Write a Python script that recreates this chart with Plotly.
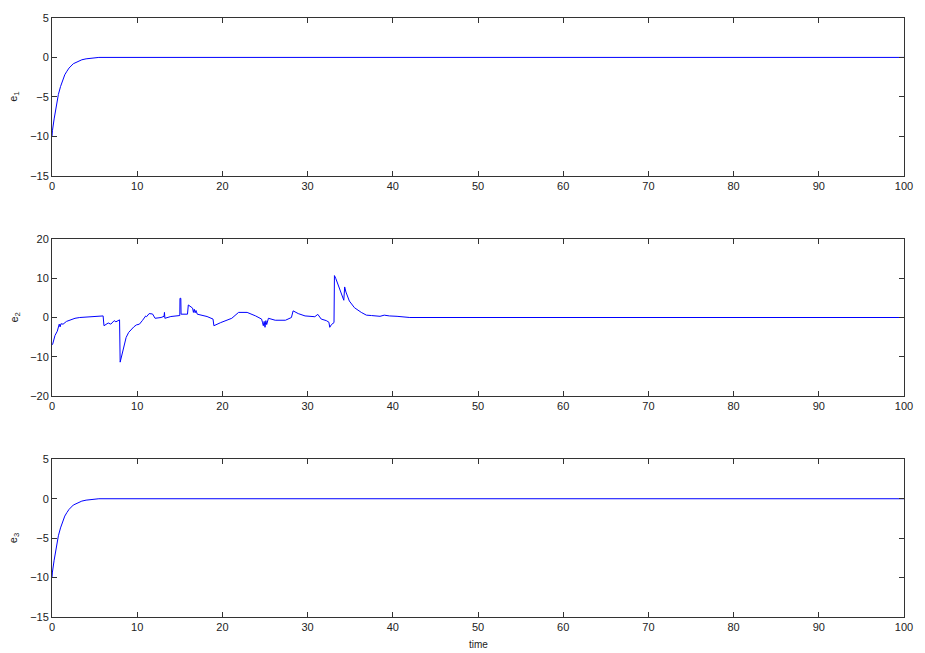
import plotly.graph_objects as go

# e1 and e3: decay from the initial error towards zero
t_decay = [0, 0.05, 0.25, 0.5, 0.75, 1.0, 1.25, 1.5, 1.75, 2.0, 2.5, 3.0, 3.5, 4.0, 4.5, 5.0, 5.5, 100]
e1_vals = [-10.0, -9.3, -7.8, -6.1, -4.7, -3.7, -2.9, -2.2, -1.75, -1.35, -0.8, -0.5, -0.3, -0.18, -0.1, -0.05, 0.0, 0.0]
e3_vals = [-10.0, -9.3, -7.8, -6.1, -4.7, -3.7, -2.9, -2.2, -1.75, -1.35, -0.8, -0.5, -0.3, -0.18, -0.1, -0.05, 0.0, 0.0]

# e2: noisy error trace that settles after t ~ 42
t_e2 = [0, 0.08, 0.35, 0.62, 0.85, 0.95, 1.05, 1.3, 1.7, 2.1, 2.7, 3.26, 4.0, 4.8, 5.5, 6.0, 6.1, 6.4, 6.6, 6.9,
        7.1, 7.3, 7.5, 7.93, 8.0, 8.1, 8.3, 8.7, 9.0, 9.3, 9.6, 9.9, 10.26, 10.6, 11.0, 11.1, 11.4, 11.8, 12.1,
        12.8, 13.15, 13.2, 13.25, 13.95, 14.7, 15.0, 15.02, 15.12, 15.15, 15.9, 16.0, 16.3, 16.5, 16.6, 16.7,
        16.8, 16.9, 17.05, 17.6, 18.2, 18.9, 19.0, 19.8, 20.55, 21.1, 21.9, 22.9, 23.9, 24.6, 24.7, 24.8, 24.9,
        25.0, 25.1, 25.2, 25.4, 26.2, 27.4, 28.1, 28.3, 28.9, 29.7, 30.85, 31.2, 31.6, 32.2, 32.5, 32.6, 32.8,
        33.1, 33.15, 33.3, 33.8, 34.25, 34.35, 34.5, 34.9, 35.5, 36.3, 36.9, 37.5, 38.0, 38.5, 39.0, 39.6,
        40.5, 41.7, 42.0, 100]
e2_vals = [-7.0, -6.8, -4.6, -3.5, -1.7, -2.4, -1.6, -1.7, -1.0, -0.6, -0.2, 0.0, 0.1, 0.2, 0.3, 0.4, -2.1, -1.6, -1.4, -1.7,
           -1.2, -0.8, -1.1, -0.6, -11.4, -10.5, -8.0, -5.1, -3.8, -3.0, -2.4, -1.9, -1.7, -0.8, 0.4, 0.2, 1.0, 0.9, -0.2,
           0.0, 0.3, 1.3, -0.2, 0.25, 0.5, 0.5, 4.9, 4.9, 0.85, 0.85, 3.2, 2.6, 2.4, 1.3, 2.1,
           1.2, 1.8, 0.85, 0.6, 0.25, -0.4, -2.1, -1.3, -0.7, -0.2, 1.3, 1.3, 0.4, -0.4, -1.2, -2.1, -1.0,
           -2.5, -0.8, -1.8, -0.2, -0.7, -0.7, 0.0, 1.7, 1.0, 0.4, 0.2, 0.8, -0.4, -0.8, -1.2, -2.5, -1.8,
           -1.3, 10.7, 10.0, 7.0, 4.4, 7.8, 6.5, 4.2, 2.5, 1.3, 0.6, 0.5, 0.4, 0.3, 0.6, 0.4,
           0.3, 0.2, 0.0, 0.0]

x_ticks = [0, 10, 20, 30, 40, 50, 60, 70, 80, 90, 100]
y_ticks_outer = [-15, -10, -5, 0, 5]
y_ticks_mid = [-20, -10, 0, 10, 20]

FRAME = "#333333"
TEXT = "#222222"
FONT = "Liberation Sans, Arial, sans-serif"
LINE = dict(color="#0000ff", width=1)

fig = go.Figure()
fig.add_trace(go.Scatter(x=t_decay, y=e1_vals, mode="lines", line=LINE, xaxis="x", yaxis="y"))
fig.add_trace(go.Scatter(x=t_e2, y=e2_vals, mode="lines", line=LINE, xaxis="x2", yaxis="y2"))
fig.add_trace(go.Scatter(x=t_decay, y=e3_vals, mode="lines", line=LINE, xaxis="x3", yaxis="y3"))


def x_axis(anchor):
    return dict(range=[0, 100], tickvals=x_ticks, ticks="inside", ticklen=5, tickcolor=FRAME,
                showline=True, linecolor=FRAME, linewidth=1, mirror="ticks", showgrid=False,
                zeroline=False, anchor=anchor, domain=[0, 1],
                tickfont=dict(family=FONT, size=11, color=TEXT))


def y_axis(anchor, rng, ticks, dom):
    return dict(range=rng, tickvals=ticks, ticks="inside", ticklen=5, tickcolor=FRAME,
                showline=True, linecolor=FRAME, linewidth=1, mirror="ticks", showgrid=False,
                zeroline=False, anchor=anchor, domain=dom,
                tickfont=dict(family=FONT, size=11, color=TEXT))


d1 = [445 / 604, 1.0]
d2 = [223 / 604, 381 / 604]
d3 = [0.0, 159 / 604]

fig.update_layout(
    width=925, height=653,
    margin=dict(l=52, r=15, t=13, b=36),
    paper_bgcolor="white", plot_bgcolor="white",
    showlegend=False,
    xaxis=x_axis("y"), yaxis=y_axis("x", [-15, 5], y_ticks_outer, d1),
    xaxis2=x_axis("y2"), yaxis2=y_axis("x2", [-20, 20], y_ticks_mid, d2),
    xaxis3=x_axis("y3"), yaxis3=y_axis("x3", [-15, 5], y_ticks_outer, d3),
)

labels = [("e<sub>1</sub>", "y domain"), ("e<sub>2</sub>", "y2 domain"), ("e<sub>3</sub>", "y3 domain")]
for txt, ref in labels:
    fig.add_annotation(text=txt, xref="paper", x=0, xshift=-38, yref=ref, y=0.5,
                       textangle=-90, showarrow=False, xanchor="center", yanchor="middle",
                       font=dict(family=FONT, size=11, color=TEXT))

fig.add_annotation(text="time", xref="paper", x=0.5, yref="paper", y=0, yshift=-20,
                   showarrow=False, xanchor="center", yanchor="top",
                   font=dict(family=FONT, size=10, color=TEXT))

fig.write_html("out.html")
